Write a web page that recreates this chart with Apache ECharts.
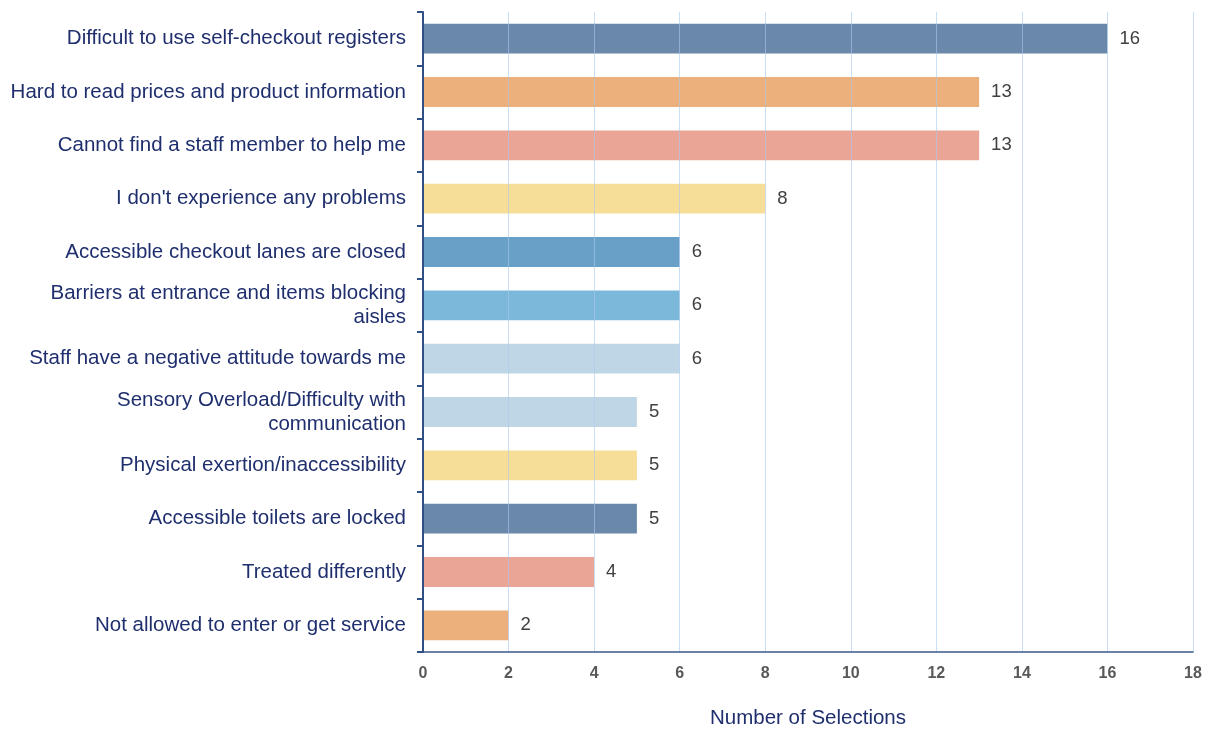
<!DOCTYPE html>
<html>
<head>
<meta charset="utf-8">
<script src="https://cdn.jsdelivr.net/npm/echarts@6/dist/echarts.min.js"></script>
<style>html,body{margin:0;padding:0;background:#fff}#c{width:1206px;height:734px}</style>
</head>
<body>
<div id="c"></div>
<script>
const categories = [
  "Difficult to use self-checkout registers",
  "Hard to read prices and product information",
  "Cannot find a staff member to help me",
  "I don't experience any problems",
  "Accessible checkout lanes are closed",
  "Barriers at entrance and items blocking\naisles",
  "Staff have a negative attitude towards me",
  "Sensory Overload/Difficulty with\ncommunication",
  "Physical exertion/inaccessibility",
  "Accessible toilets are locked",
  "Treated differently",
  "Not allowed to enter or get service"
];
const values = [16, 13, 13, 8, 6, 6, 6, 5, 5, 5, 4, 2];
const barColors = ["#6a88aa", "#ebb07c", "#eba596", "#f7de98", "#68a0c8", "#7cb8da", "#bfd6e6", "#bfd6e6", "#f7de98", "#6a88aa", "#eba596", "#ebb07c"];
const xTicks = [0, 2, 4, 6, 8, 10, 12, 14, 16, 18];
const axisTitle = "Number of Selections";

const chart = echarts.init(document.getElementById('c'), null, {renderer: 'canvas'});
chart.setOption({
  animation: false,
  grid: {left: 423, right: 13, top: 12, bottom: 77, containLabel: false},
  xAxis: {
    type: 'value', min: xTicks[0], max: xTicks[xTicks.length - 1], interval: 2,
    z: 3,
    name: axisTitle, nameLocation: 'middle', nameGap: 56,
    nameTextStyle: {color: '#1f2f6e', fontSize: 20.5, fontFamily: 'Liberation Sans'},
    axisLine: {show: true, lineStyle: {color: '#3a5a8c', width: 1.5}},
    axisTick: {show: false},
    axisLabel: {color: '#595959', fontSize: 16, fontWeight: 'bold', fontFamily: 'Liberation Sans', margin: 14},
    splitLine: {show: true, lineStyle: {color: 'rgba(170,200,235,0.6)', width: 1}}
  },
  yAxis: {
    type: 'category', data: categories, inverse: true, z: 4,
    axisLine: {show: true, lineStyle: {color: '#2f4f86', width: 2}},
    axisTick: {show: true, length: 6, lineStyle: {color: '#2f4f86', width: 2}},
    axisLabel: {color: '#1f2f6e', fontSize: 20.5, fontFamily: 'Liberation Sans', margin: 17, lineHeight: 24, align: 'right'},
    splitLine: {show: false}
  },
  series: [{
    type: 'bar',
    data: values.map((v, i) => ({value: v, itemStyle: {color: barColors[i]}})),
    barWidth: '56%',
    label: {show: true, position: 'right', distance: 12, color: '#404040', fontSize: 18.5, fontFamily: 'Liberation Sans'}
  }]
});
</script>
</body>
</html>
